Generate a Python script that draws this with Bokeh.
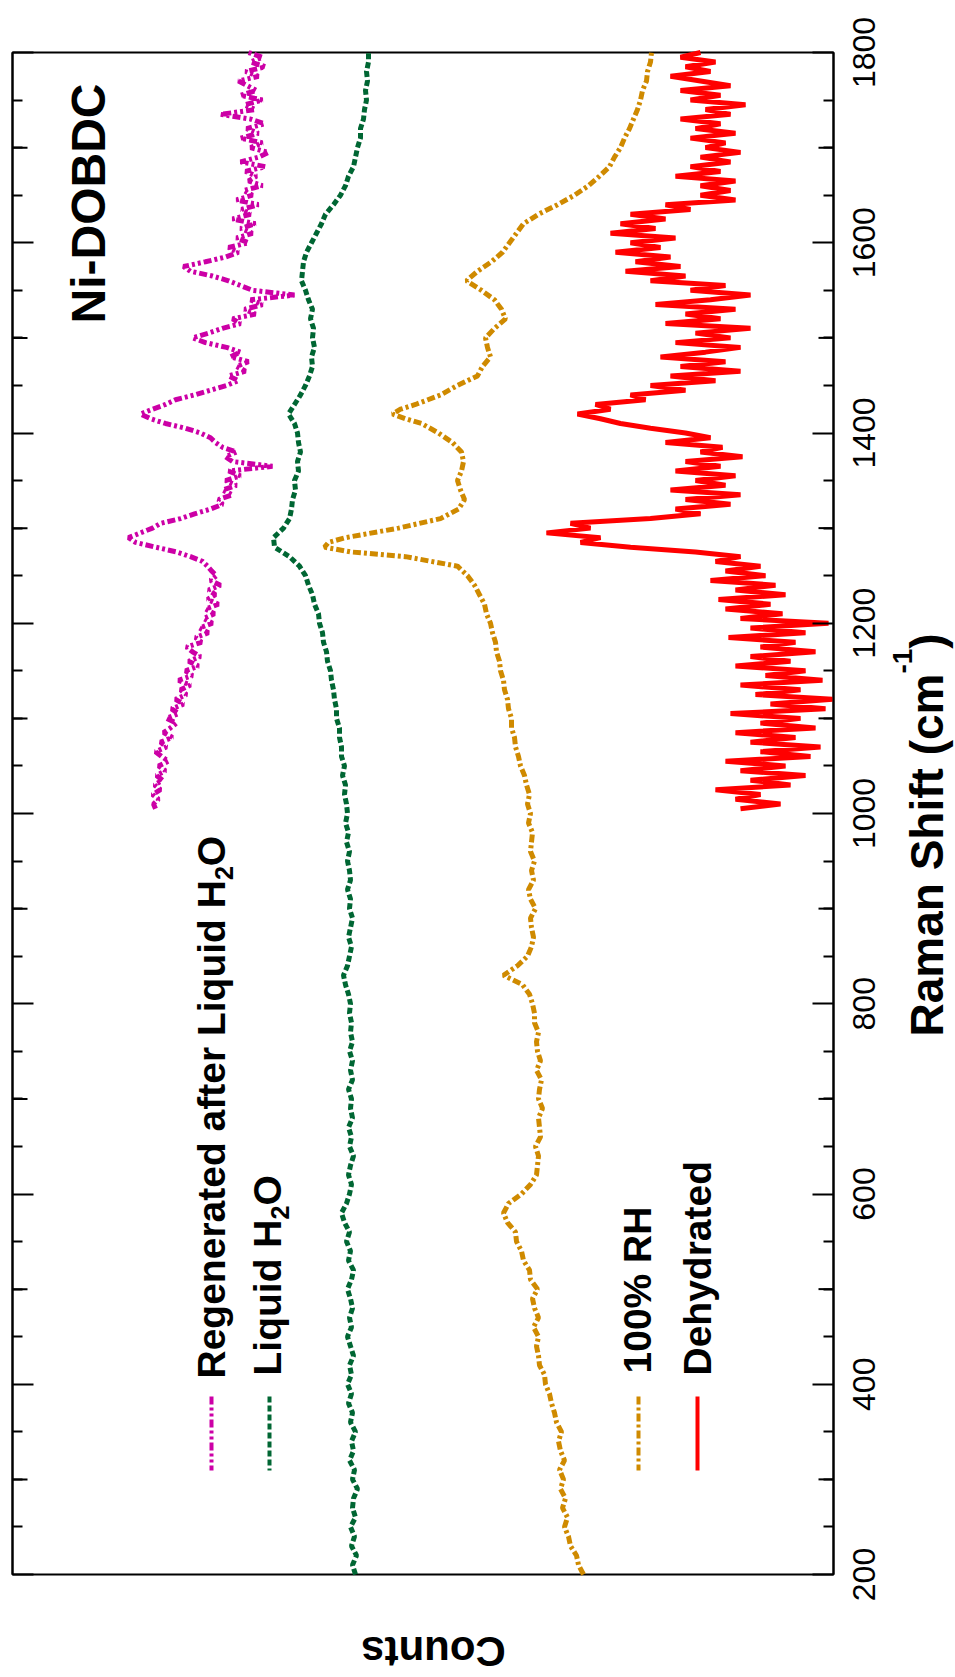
import numpy as np
from math import pi
from bokeh.plotting import figure
from bokeh.models import Range1d, LinearAxis, FixedTicker, Label
from bokeh.embed import file_html
from bokeh.resources import INLINE

# ---------------- data (Raman shift in cm^-1, counts in arbitrary offset units) ----------------
shift_ticks = [200, 400, 600, 800, 1000, 1200, 1400, 1600, 1800]
minor_shift_ticks = [s for s in range(250, 1800, 50) if s % 200 != 0]
mid_shift_ticks = [300, 500, 700, 900, 1100, 1300, 1500, 1700]

liquid_shift = list(range(200, 1801, 10))
liquid_counts = [
    545, 548, 544, 549, 546, 550, 545, 548, 547, 543,
    548, 546, 551, 547, 549, 545, 550, 548, 552, 549,
    553, 549, 551, 547, 550, 553, 549, 551, 548, 550,
    553, 549, 547, 552, 550, 554, 551, 556, 559, 554,
    551, 549, 552, 550, 547, 551, 549, 552, 548, 550,
    549, 552, 548, 550, 548, 551, 548, 550, 549, 551,
    550, 552, 555, 557, 553, 551, 549, 552, 550, 548,
    551, 550, 553, 550, 551, 553, 551, 554, 552, 555,
    553, 554, 556, 555, 558, 556, 559, 559, 561, 561,
    564, 564, 566, 567, 569, 570, 573, 574, 577, 578,
    581, 582, 586, 588, 592, 595, 601, 611, 626, 627,
    617, 611, 609, 608, 605, 606, 602, 603, 600, 602,
    603, 606, 612, 606, 600, 595, 591, 588, 589, 586,
    588, 587, 590, 588, 592, 595, 599, 598, 597, 594,
    589, 584, 579, 575, 567, 560, 555, 552, 547, 545,
    543, 540, 540, 537, 536, 534, 535, 533, 534, 532,
    532,
]

rh_shift = (list(range(200, 1261, 10)) + [1270, 1275, 1280, 1285, 1290]
            + list(range(1300, 1411, 10)) + [1415, 1420, 1425]
            + list(range(1430, 1801, 10)))
rh_counts = [
    317, 322, 324, 330, 332, 336, 333, 338, 335, 340,
    337, 341, 336, 340, 342, 339, 344, 346, 349, 351,
    355, 356, 361, 362, 364, 362, 367, 362, 366, 368,
    363, 370, 371, 377, 379, 384, 385, 393, 397, 392,
    379, 370, 364, 363, 362, 365, 360, 361, 362, 358,
    362, 361, 359, 364, 360, 363, 364, 362, 366, 366,
    368, 371, 378, 397, 383, 373, 369, 367, 369, 370,
    365, 370, 372, 367, 369, 366, 370, 369, 368, 372,
    370, 373, 371, 374, 376, 380, 382, 385, 386, 389,
    389, 392, 393, 396, 397, 400, 401, 404, 405, 408,
    410, 414, 416, 421, 426, 433, 443,
    495, 550, 576, 572, 555,
    502, 460, 442, 436, 440, 443, 439, 437, 439, 448, 462, 479,
    495, 508, 500,
    485, 460, 443, 423, 418, 410, 413, 415, 406, 395,
    399, 406, 419, 434, 423, 409, 398, 391, 384, 377,
    362, 343, 326, 312, 301, 291, 286, 280, 276, 271,
    267, 263, 260, 258, 254, 253, 250, 249,
]

regen_shift = list(range(1005, 1801, 5))
regen_counts = [
    745, 747, 742, 748, 740, 746, 738, 744, 735, 742,
    732, 739, 745, 734, 740, 728, 737, 730, 724, 734,
    722, 729, 717, 725, 714, 720, 710, 722, 708, 715,
    702, 712, 700, 708, 714, 699, 705, 692, 701, 688,
    697, 686, 695, 682, 693, 685, 692, 680, 690, 684,
    689, 693, 698, 710, 724, 745, 765, 772, 760, 748,
    740, 720, 706, 690, 678, 682, 668, 678, 664, 675,
    660, 672, 628, 668, 675, 664, 678, 685, 690, 700,
    715, 735, 750, 760, 748, 735, 725, 706, 690, 674,
    662, 672, 655, 664, 652, 670, 660, 674, 695, 708,
    692, 678, 660, 668, 645, 656, 638, 650, 606, 648,
    660, 672, 688, 710, 717, 695, 675, 662, 672, 652,
    664, 648, 660, 645, 668, 650, 659, 642, 664, 648,
    657, 638, 652, 644, 655, 635, 660, 642, 632, 650,
    638, 660, 642, 654, 636, 650, 680, 645, 656, 638,
    660, 644, 653, 662, 642, 655, 635, 650, 638, 652,
]

dehyd_shift = list(range(1005, 1801, 5))
dehyd_counts = [
    160, 120, 165, 140, 185, 110, 150, 95, 160, 115,
    175, 90, 140, 80, 150, 105, 165, 85, 140, 100,
    170, 75, 130, 68, 145, 100, 160, 78, 135, 95,
    165, 110, 150, 85, 140, 105, 172, 95, 150, 72,
    160, 118, 175, 130, 182, 115, 165, 125, 190, 135,
    175, 140, 185, 160, 205, 270, 320, 300, 354, 310,
    330, 250, 200, 225, 170, 215, 160, 230, 175, 205,
    165, 225, 180, 215, 158, 200, 178, 235, 190, 215,
    250, 280, 300, 323, 290, 305, 255, 270, 215, 250,
    185, 230, 160, 220, 175, 240, 195, 160, 225, 170,
    205, 150, 235, 180, 215, 165, 245, 190, 150, 210,
    175, 250, 215, 275, 220, 265, 230, 285, 240, 270,
    225, 290, 245, 280, 235, 270, 210, 235, 165, 200,
    170, 200, 165, 225, 180, 210, 170, 200, 160, 195,
    175, 210, 165, 205, 180, 220, 170, 195, 155, 210,
    180, 220, 170, 200, 230, 190, 215, 185, 220, 200,
]

# ---------------- layout helpers (page pixels -> data) ----------------
W, H = 955, 1677
FL, FR, FT, FB = 12, 833, 52, 1574          # visible plot box on the page
C_LEFT, C_RIGHT = 888, 67                    # counts at box left / right edge
S_MIN, S_MAX = 200, 1800
PX_PER_S = (FB - FT) / (S_MAX - S_MIN)


def cx(px):
    return C_LEFT - (px - FL)


def sy(py):
    return S_MAX - (py - FT) / PX_PER_S


FONT = "Liberation Sans"
MAGENTA = "#CC00A6"
GREEN = "#006633"
GOLD = "#CF8A00"
RED = "#FF0000"

p = figure(frame_width=W, frame_height=H,
           x_range=Range1d(cx(0), cx(W)), y_range=Range1d(sy(H), sy(0)),
           x_axis_location=None, y_axis_location=None,
           output_backend="svg", toolbar_location=None, min_border=0)
p.grid.visible = False
p.background_fill_color = "white"
p.border_fill_color = "white"
p.outline_line_color = None

# plot box
p.quad(left=[C_RIGHT], right=[C_LEFT], bottom=[S_MIN], top=[S_MAX],
       fill_color=None, line_color="black", line_width=2)


def make_axis(loc):
    return LinearAxis(fixed_location=loc, bounds=(S_MIN, S_MAX),
                      ticker=FixedTicker(ticks=shift_ticks, minor_ticks=minor_shift_ticks),
                      major_tick_in=21, major_tick_out=0, minor_tick_in=10, minor_tick_out=0,
                      major_tick_line_width=2, minor_tick_line_width=2,
                      axis_line_width=2, axis_line_color="black",
                      major_label_text_font_size="1px", major_label_text_alpha=0,
                      major_label_standoff=0)


p.add_layout(make_axis(C_RIGHT), "right")
p.add_layout(make_axis(C_LEFT), "left")

# medium (100s) ticks
p.segment(x0=[C_RIGHT] * len(mid_shift_ticks), y0=mid_shift_ticks,
          x1=[C_RIGHT + 15] * len(mid_shift_ticks), y1=mid_shift_ticks,
          line_color="black", line_width=2)
p.segment(x0=[C_LEFT] * len(mid_shift_ticks), y0=mid_shift_ticks,
          x1=[C_LEFT - 15] * len(mid_shift_ticks), y1=mid_shift_ticks,
          line_color="black", line_width=2)


def rlabel(px, y, text, size, bold=True, align="left", angle=pi / 2):
    p.add_layout(Label(x=cx(px), y=y, text=text, angle=angle,
                       text_font=FONT, text_font_size=f"{size}px",
                       text_font_style="bold" if bold else "normal",
                       text_align=align, text_baseline="middle", text_color="black"))


# tick labels (rotated, centred on ticks)
for t in shift_ticks:
    rlabel(863, t, str(t), 32, bold=False, align="center")

# ---------------- spectra ----------------
p.line(regen_counts, regen_shift, line_color=MAGENTA, line_width=5, line_dash="8 3 3 3 3 3")
p.line(liquid_counts, liquid_shift, line_color=GREEN, line_width=5, line_dash="6 3")
p.line(rh_counts, rh_shift, line_color=GOLD, line_width=5, line_dash="8 3 3 3")
p.line(dehyd_counts, dehyd_shift, line_color=RED, line_width=5)


# ---------------- legends (rotated, drawn manually) ----------------
def swatch(px, color, dash, width):
    p.segment(x0=[cx(px)], y0=[sy(1396)], x1=[cx(px)], y1=[sy(1470)],
              line_color=color, line_width=width, line_dash=dash)


swatch(211, MAGENTA, "8 3 3 3 3 3", 4)
swatch(269, GREEN, "6 3", 4)
swatch(638, GOLD, "8 3 3 3", 4)
swatch(697, RED, "solid", 4)

LEG = 39
SUB = 25


def h2o_label(px, py, prefix, em_width):
    w1 = em_width * LEG
    rlabel(px, sy(py), prefix, LEG)
    rlabel(px + 12, sy(py - w1), "2", SUB)
    rlabel(px, sy(py - w1 - 0.556 * SUB), "O", LEG)


h2o_label(211, 1378, "Regenerated after Liquid H", 12.78)
h2o_label(267, 1375, "Liquid H", 4.0)
rlabel(637, sy(1373), "100% RH", LEG)
rlabel(697, sy(1375), "Dehydrated", LEG)

rlabel(88, sy(323), "Ni-DOBDC", 48)

# axis titles
AT = 46
SUP = 28
w_main = 7.89 * AT
rlabel(926, sy(1036), "Raman Shift (cm", AT)
rlabel(902, sy(1036 - w_main), "-1", SUP)
rlabel(926, sy(1036 - w_main - 0.889 * SUP), ")", AT)

rlabel(433, sy(1651), "Counts", 42, align="center", angle=pi)

open("out.html", "w").write(file_html(p, INLINE))
